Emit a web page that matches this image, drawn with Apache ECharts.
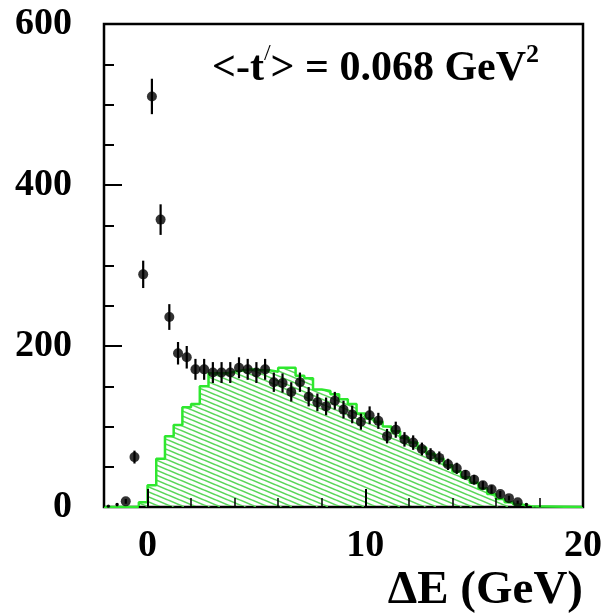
<!DOCTYPE html>
<html>
<head>
<meta charset="utf-8">
<script src="https://cdn.jsdelivr.net/npm/echarts@6/dist/echarts.min.js"></script>
<style>
  html, body { margin: 0; padding: 0; background: #fff; }
  #chart { width: 605px; height: 615px; }
</style>
</head>
<body>
<div id="chart"></div>
<script>
// Measured ΔE spectrum: bin centres (GeV), counts per bin and their errors
const pointE = [-1.8, -1.4, -1.0, -0.6, -0.2, 0.2, 0.6, 1.0, 1.4, 1.8,
  2.2, 2.6, 3.0, 3.4, 3.8, 4.2, 4.6, 5.0, 5.4, 5.8,
  6.2, 6.6, 7.0, 7.4, 7.8, 8.2, 8.6, 9.0, 9.4, 9.8,
  10.2, 10.6, 11.0, 11.4, 11.8, 12.2, 12.6, 13.0, 13.4, 13.8,
  14.2, 14.6, 15.0, 15.4, 15.8, 16.2, 16.6, 17.0, 17.4];
const pointN = [1, 3, 7, 62, 289, 510, 357, 236, 191, 186,
  171, 171, 167, 167, 167, 173, 171, 167, 171, 155,
  154, 143, 155, 137, 130, 125, 132, 121, 115, 106,
  114, 107, 88, 96, 84, 80, 72, 65, 61, 53,
  48, 40, 34, 27, 22, 16, 11, 6, 3];
const pointErr = [1, 2, 3, 8, 17, 22, 19, 16, 14, 14,
  13, 13, 13, 13, 13, 13, 13, 13, 13, 12,
  12, 12, 12, 12, 11, 11, 11, 11, 11, 10,
  11, 10, 9, 10, 9, 9, 8, 8, 8, 7,
  7, 6, 6, 5, 5, 4, 3, 2, 2];

// Simulated background histogram: first lower edge, bin width, contents
const histStart = -0.4;
const histWidth = 0.4;
const histN = [6, 27, 60, 88, 102, 124, 128, 150, 166, 166,
  168, 170, 171, 170, 170, 168, 173, 173, 163, 160,
  146, 144, 140, 134, 128, 116, 110, 106, 100, 94,
  86, 80, 74, 66, 60, 52, 44, 37, 30, 23,
  16, 10, 6, 3, 1];

// Axis ranges and labelled ticks
const xRange = [-2, 20];
const xLabelTicks = [0, 10, 20];
const yRange = [0, 600];
const yStep = 200;

const annotation = ['<-t', '/', '> = 0.068 GeV', '2'];
const xTitle = 'ΔE (GeV)';

const GREEN = '#2ee82e';
const SERIF = '"Liberation Serif", "Times New Roman", serif';

// Diagonal hatch tile for the histogram fill
function hatchTile() {
  const w = 12, h = 5;
  const c = document.createElement('canvas');
  c.width = w; c.height = h;
  const g = c.getContext('2d');
  g.strokeStyle = '#5ad65a';
  g.lineWidth = 1.6;
  for (const k of [-h, 0, h]) {
    g.beginPath();
    g.moveTo(0, k);
    g.lineTo(w, k + h);
    g.stroke();
  }
  return c;
}

// Step outline of the histogram, closed to zero across the full axis
const histLine = [[xRange[0], 0], [histStart, 0]];
histN.forEach((v, i) => {
  const lo = histStart + i * histWidth;
  const hi = lo + histWidth;
  histLine.push([+lo.toFixed(2), v], [+hi.toFixed(2), v]);
});
const histEnd = +(histStart + histN.length * histWidth).toFixed(2);
histLine.push([histEnd, 0], [xRange[1], 0]);

const points = pointE.map((e, i) => [e, pointN[i], pointErr[i]]);

const chart = echarts.init(document.getElementById('chart'), null, { renderer: 'canvas' });

chart.setOption({
  animation: false,
  backgroundColor: '#fff',
  grid: {
    left: 104, right: 20, top: 24, bottom: 108,
    show: true, borderColor: '#000', borderWidth: 2.5,
    backgroundColor: 'transparent'
  },
  xAxis: [
    {
      type: 'value', min: xRange[0], max: xRange[1], position: 'bottom', z: 6,
      axisLine: { show: false, onZero: false },
      splitLine: { show: false },
      axisTick: { show: true, inside: true, length: 18, customValues: xLabelTicks,
        lineStyle: { color: '#000', width: 2 } },
      axisLabel: { customValues: xLabelTicks, margin: 20, color: '#000',
        fontFamily: SERIF, fontWeight: 'bold', fontSize: 38 }
    },
    {
      type: 'value', min: xRange[0], max: xRange[1], interval: 2, position: 'bottom', z: 6,
      axisLine: { show: false, onZero: false },
      splitLine: { show: false },
      axisTick: { show: true, inside: true, length: 9,
        lineStyle: { color: '#000', width: 1.5 } },
      axisLabel: { show: false }
    }
  ],
  yAxis: {
    type: 'value', min: yRange[0], max: yRange[1], interval: yStep, position: 'left',
    axisLine: { show: false, onZero: false },
    splitLine: { show: false },
    axisTick: { show: true, inside: true, length: 18, lineStyle: { color: '#000', width: 2 } },
    minorTick: { show: true, splitNumber: 4, length: 10, lineStyle: { color: '#000', width: 2 } },
    axisLabel: { margin: 32, color: '#000', fontFamily: SERIF, fontWeight: 'bold', fontSize: 38 }
  },
  series: [
    {
      name: 'background',
      type: 'line',
      data: histLine,
      symbol: 'none',
      z: 1,
      lineStyle: { color: GREEN, width: 2.5 },
      areaStyle: { color: { image: hatchTile(), repeat: 'repeat' }, opacity: 1 }
    },
    {
      name: 'zero',
      type: 'line',
      data: [[histStart, 0], [histEnd + 0.2, 0]],
      symbol: 'none',
      z: 3,
      lineStyle: { color: '#000', width: 2, type: [6, 3] }
    },
    {
      name: 'errors',
      type: 'custom',
      z: 4,
      data: points,
      renderItem: function (params, api) {
        const x = api.value(0), y = api.value(1), e = api.value(2);
        const p1 = api.coord([x, y - e]);
        const p2 = api.coord([x, y + e]);
        return {
          type: 'line',
          shape: { x1: p1[0], y1: p1[1], x2: p2[0], y2: p2[1] },
          style: { stroke: '#000', lineWidth: 2.2 }
        };
      }
    },
    {
      name: 'data',
      type: 'scatter',
      z: 5,
      data: points,
      symbol: 'circle',
      symbolSize: function (v) { return v[1] < 5 ? 3.5 : 10; },
      itemStyle: { color: '#000' }
    }
  ],
  graphic: [
    {
      type: 'text',
      left: 212, top: 42,
      style: {
        text: '{m|' + annotation[0] + '}{p|' + annotation[1] + '}{m|' + annotation[2] + '}{s|' + annotation[3] + '}',
        rich: {
          m: { fontFamily: SERIF, fontWeight: 'bold', fontSize: 42, fill: '#000', lineHeight: 48, verticalAlign: 'bottom' },
          p: { fontFamily: SERIF, fontWeight: 'normal', fontSize: 24, fill: '#000', lineHeight: 48, verticalAlign: 'top' },
          s: { fontFamily: SERIF, fontWeight: 'bold', fontSize: 26, fill: '#000', lineHeight: 48, verticalAlign: 'top' }
        }
      }
    },
    {
      type: 'text',
      right: 22, top: 567,
      style: {
        text: xTitle,
        fontFamily: SERIF, fontWeight: 'bold', fontSize: 47, fill: '#000'
      }
    }
  ]
});
</script>
</body>
</html>
